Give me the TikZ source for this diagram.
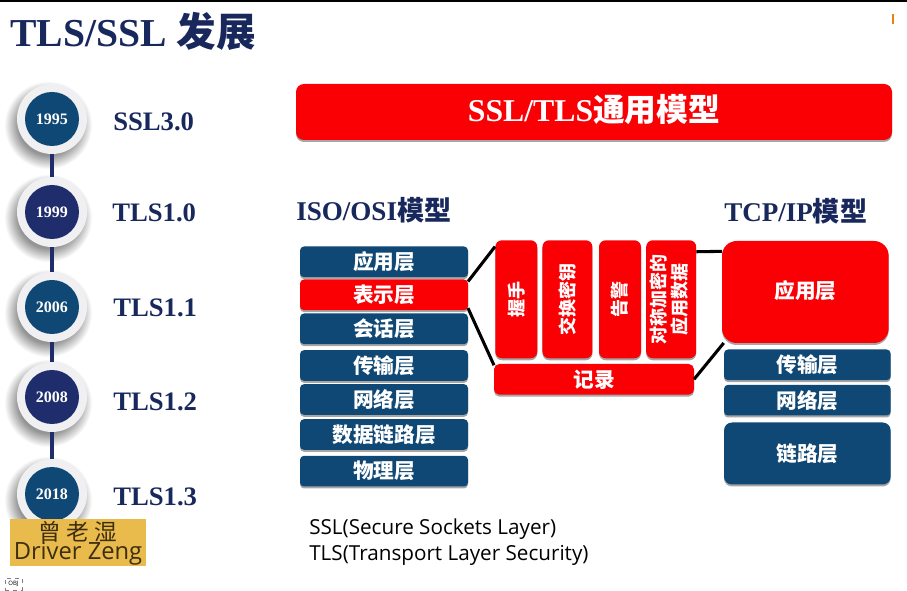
\documentclass[tikz,border=0pt]{standalone}
\usepackage{fontspec}
\setmainfont{Liberation Serif}
\setsansfont{Open Sans}
\newfontfamily\cjk{Noto Sans CJK SC}
\usepackage{xcolor}
\usetikzlibrary{positioning, shadows}
\definecolor{tlsblue}{RGB}{15,72,116}
\definecolor{tlsnavy}{RGB}{31,45,108}
\definecolor{tlsink}{RGB}{24,40,92}
\definecolor{tlsred}{RGB}{250,0,5}
\definecolor{tlsring}{RGB}{240,240,243}
\definecolor{tlsgold}{RGB}{233,186,76}
\definecolor{tlsbrown}{RGB}{62,46,16}
\pgfdeclareradialshading{ringfade}{\pgfpoint{0bp}{0bp}}{color(0bp)=(black!42); color(17bp)=(black!42); color(25bp)=(white); color(50bp)=(white)}
\newcommand{\zh}[1]{{\cjk\bfseries #1}}
\tikzset{
  softshadow/.style={drop shadow={shadow xshift=0pt, shadow yshift=-1.5pt, opacity=.35, fill=black}},
  fade/.style={circle, shading=ringfade, minimum size=66pt, inner sep=0pt},
  ring/.style={circle, fill=tlsring, minimum size=52.5pt, inner sep=0pt},
  year/.style={circle, minimum size=40.5pt, inner sep=0pt, text=white,
    font=\fontsize{12}{14}\selectfont\bfseries},
  ver/.style={anchor=west, text=tlsink, inner sep=0pt, font=\fontsize{20}{24}\selectfont\bfseries},
  head/.style={anchor=west, text=tlsink, inner sep=0pt, font=\fontsize{20.3}{24}\selectfont\bfseries},
  lay/.style={rectangle, fill=tlsblue, rounded corners=3pt, text=white, inner sep=0pt, outer sep=0pt,
    minimum width=126pt, minimum height=23pt, font=\fontsize{15.5}{18}\selectfont, softshadow},
  tcplay/.style={lay, minimum width=125pt},
  redlay/.style={lay, fill=tlsred},
  col/.style={rectangle, fill=tlsred, rounded corners=5pt, text=white, inner sep=0pt,
    minimum height=88.5pt, font=\fontsize{13.5}{15}\selectfont, align=center, softshadow},
  link/.style={line width=2.3pt, black}
}
\begin{document}
\begin{tikzpicture}[x=.75pt, y=-.75pt]
  \useasboundingbox (0,0) rectangle (907,591);
  \fill[white] (0,0) rectangle (907,591);
  \draw[line width=1pt, black] (0,1) -- (907,1);
  \node[head, font=\fontsize{29.7}{34}\selectfont\bfseries] (title) at (10,31) {TLS/SSL \zh{发展}};
  \node[rectangle, fill=orange!75!brown, minimum width=1.5pt, minimum height=7.5pt, inner sep=0pt] (mark) at (893,19) {};

  % timeline on the left
  \node[fade] (s1) at (48,125) {};
  \node[fade] (s2) at (48,218) {};
  \node[fade] (s3) at (48,313) {};
  \node[fade] (s4) at (48,403) {};
  \node[fade] (s5) at (48,500) {};
  \node[ring] (r1) at (52,119) {};
  \node[ring] (r2) at (52,212) {};
  \node[ring] (r3) at (52,307) {};
  \node[ring] (r4) at (52,397) {};
  \node[ring] (r5) at (52,494) {};
  \draw[line width=3pt, tlsnavy] (r1) -- (r2);
  \draw[line width=3pt, tlsnavy] (r2) -- (r3);
  \draw[line width=3pt, tlsnavy] (r3) -- (r4);
  \draw[line width=3pt, tlsnavy] (r4) -- (r5);
  \node[year, fill=tlsblue] (y1) at (r1) {1995};
  \node[year, fill=tlsnavy] (y2) at (r2) {1999};
  \node[year, fill=tlsblue] (y3) at (r3) {2006};
  \node[year, fill=tlsnavy] (y4) at (r4) {2008};
  \node[year, fill=tlsblue] (y5) at (r5) {2018};
  \node[ver] (v1) at (113,122) {SSL3.0};
  \node[ver] (v2) at (112,213) {TLS1.0};
  \node[ver] (v3) at (113,308) {TLS1.1};
  \node[ver] (v4) at (113,402) {TLS1.2};
  \node[ver] (v5) at (113,497) {TLS1.3};

  % watermark
  \node[rectangle, fill=tlsgold, minimum width=102pt, minimum height=35pt, inner sep=0pt,
    text=tlsbrown, align=center, font=\sffamily\fontsize{17.8}{16}\selectfont] (wm) at (78,542.5)
    {\rule{0pt}{16pt}{\cjk\fontsize{17}{16}\selectfont 曾 老 湿}\\[-1.5pt]Driver Zeng};
  \node[draw=gray, dashed, line width=.3pt, inner sep=0pt, minimum width=12.75pt, minimum height=9pt,
    font=\sffamily\fontsize{4.5}{5}\selectfont] (obj) at (13.5,584) {OBJ};

  % banner and headings
  \node[rectangle, fill=tlsred, rounded corners=6pt, minimum width=447pt, minimum height=42pt, inner sep=0pt,
    text=white, softshadow, text depth=6pt, font=\fontsize{23.8}{28}\selectfont\bfseries] (banner) at (594,112)
    {SSL/TLS\zh{通用模型}};
  \node[head] (iso) at (296,210) {ISO/OSI\zh{模型}};
  \node[head] (tcp) at (724,211) {TCP/IP\zh{模型}};

  % ISO/OSI stack
  \node[lay, anchor=north west] (app) at (300,246.5) {\zh{应用层}};
  \node[redlay, below=1.75pt of app] (pres) {\zh{表示层}};
  \node[lay, below=2.5pt of pres] (sess) {\zh{会话层}};
  \node[lay, below=4.5pt of sess] (trans) {\zh{传输层}};
  \node[lay, below=2.5pt of trans] (net) {\zh{网络层}};
  \node[lay, below=3.25pt of net] (data) {\zh{数据链路层}};
  \node[lay, below=4.5pt of data] (phy) {\zh{物理层}};

  % SSL/TLS columns
  \node[col, minimum width=31.5pt, anchor=north west] (shake) at (495,240) {\rotatebox{90}{\zh{握手}}};
  \node[col, minimum width=37.5pt, right=3.5pt of shake] (keyx) {\rotatebox{90}{\zh{交换密钥}}};
  \node[col, minimum width=31.5pt, right=4.5pt of keyx] (alert) {\rotatebox{90}{\zh{告警}}};
  \node[col, minimum width=37.5pt, right=3.5pt of alert] (appd) {\rotatebox{90}{\begin{tabular}{@{}c@{}}\zh{对称加密的}\\[-1pt]\zh{应用数据}\end{tabular}}};
  \node[redlay, minimum width=150pt, anchor=north west, rounded corners=4pt] (rec) at (494,364) {\zh{记录}};

  % TCP/IP stack
  \node[redlay, minimum width=125pt, minimum height=76.5pt, rounded corners=11pt, text depth=3pt, anchor=north west] (tapp) at (722,241) {\zh{应用层}};
  \node[tcplay, anchor=north west] (ttrans) at (724,349.5) {\zh{传输层}};
  \node[tcplay, below=3.5pt of ttrans] (tnet) {\zh{网络层}};
  \node[tcplay, minimum height=46.5pt, rounded corners=6pt, below=5.25pt of tnet] (tlink) {\zh{链路层}};

  \draw[link] (pres.9.5) -- (shake.112);
  \draw[link] (pres.-9) -- (rec.172.5);
  \draw[link] (appd.62.8) -- (tapp.154);
  \draw[link] (rec.east) -- (tapp.212.5);

  \node[anchor=north west, inner sep=0pt, align=left, font=\sffamily\fontsize{15.5}{18.8}\selectfont] (note) at (309,519)
    {SSL(Secure Sockets Layer)\\TLS(Transport Layer Security)};
\end{tikzpicture}
\end{document}
